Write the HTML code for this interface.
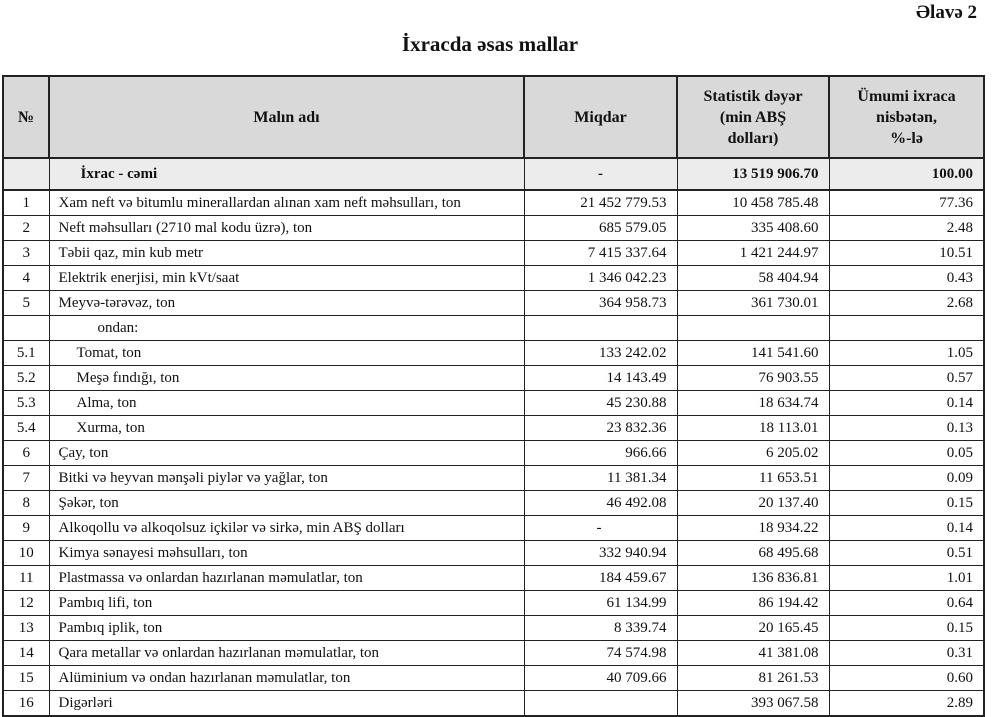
<!DOCTYPE html>
<html><head><meta charset="utf-8"><style>
body{margin:0;background:#fff;width:1000px;height:716px;overflow:hidden;font-family:"Liberation Serif",serif;color:#111;position:relative}
.ap{position:absolute;right:23px;top:2px;font-weight:bold;font-size:19px}
.tt{position:absolute;left:0;width:980px;top:32px;text-align:center;font-weight:bold;font-size:21px}
table{position:absolute;left:2px;top:75px;border-collapse:collapse;table-layout:fixed;width:981px;border:2px solid #222}
td{border:1px solid #222;font-size:15px;padding:0;height:24px;white-space:nowrap;overflow:hidden}
col.a{width:46px}col.b{width:475px}col.c{width:153px}col.d{width:152px}col.e{width:155px}
th{background:#d9d9d9;border:2px solid #222;font-size:16px;height:78px;line-height:21px}
tr.tot td{background:#ececec;font-weight:bold;height:30px;border-bottom:2px solid #222}
.n{text-align:center}.r{text-align:right;padding-right:10px}.l{padding-left:9px}.s{padding-left:27px}.o{padding-left:48px}
.tot .l{padding-left:31px}
</style></head><body>
<div class="ap">Əlavə 2</div>
<div class="tt">İxracda əsas mallar</div>
<table>
<colgroup><col class="a"><col class="b"><col class="c"><col class="d"><col class="e"></colgroup>
<tr><th>№</th><th>Malın adı</th><th>Miqdar</th><th>Statistik dəyər<br>(min ABŞ<br>dolları)</th><th>Ümumi ixraca<br>nisbətən,<br>%-lə</th></tr>
<tr class="tot"><td></td><td class="l">İxrac - cəmi</td><td class="n">-</td><td class="r">13 519 906.70</td><td class="r">100.00</td></tr>
<tr><td class="n">1</td><td class="l">Xam neft və bitumlu minerallardan alınan xam neft məhsulları, ton</td><td class="r">21 452 779.53</td><td class="r">10 458 785.48</td><td class="r">77.36</td></tr>
<tr><td class="n">2</td><td class="l">Neft məhsulları (2710 mal kodu üzrə), ton</td><td class="r">685 579.05</td><td class="r">335 408.60</td><td class="r">2.48</td></tr>
<tr><td class="n">3</td><td class="l">Təbii qaz, min kub metr</td><td class="r">7 415 337.64</td><td class="r">1 421 244.97</td><td class="r">10.51</td></tr>
<tr><td class="n">4</td><td class="l">Elektrik enerjisi, min kVt/saat</td><td class="r">1 346 042.23</td><td class="r">58 404.94</td><td class="r">0.43</td></tr>
<tr><td class="n">5</td><td class="l">Meyvə-tərəvəz, ton</td><td class="r">364 958.73</td><td class="r">361 730.01</td><td class="r">2.68</td></tr>
<tr><td></td><td class="o">ondan:</td><td></td><td></td><td></td></tr>
<tr><td class="n">5.1</td><td class="s">Tomat, ton</td><td class="r">133 242.02</td><td class="r">141 541.60</td><td class="r">1.05</td></tr>
<tr><td class="n">5.2</td><td class="s">Meşə fındığı, ton</td><td class="r">14 143.49</td><td class="r">76 903.55</td><td class="r">0.57</td></tr>
<tr><td class="n">5.3</td><td class="s">Alma, ton</td><td class="r">45 230.88</td><td class="r">18 634.74</td><td class="r">0.14</td></tr>
<tr><td class="n">5.4</td><td class="s">Xurma, ton</td><td class="r">23 832.36</td><td class="r">18 113.01</td><td class="r">0.13</td></tr>
<tr><td class="n">6</td><td class="l">Çay, ton</td><td class="r">966.66</td><td class="r">6 205.02</td><td class="r">0.05</td></tr>
<tr><td class="n">7</td><td class="l">Bitki və heyvan mənşəli piylər və yağlar, ton</td><td class="r">11 381.34</td><td class="r">11 653.51</td><td class="r">0.09</td></tr>
<tr><td class="n">8</td><td class="l">Şəkər, ton</td><td class="r">46 492.08</td><td class="r">20 137.40</td><td class="r">0.15</td></tr>
<tr><td class="n">9</td><td class="l">Alkoqollu və alkoqolsuz içkilər və sirkə, min ABŞ dolları</td><td style="padding-left:72px">-</td><td class="r">18 934.22</td><td class="r">0.14</td></tr>
<tr><td class="n">10</td><td class="l">Kimya sənayesi məhsulları, ton</td><td class="r">332 940.94</td><td class="r">68 495.68</td><td class="r">0.51</td></tr>
<tr><td class="n">11</td><td class="l">Plastmassa və onlardan hazırlanan məmulatlar, ton</td><td class="r">184 459.67</td><td class="r">136 836.81</td><td class="r">1.01</td></tr>
<tr><td class="n">12</td><td class="l">Pambıq lifi, ton</td><td class="r">61 134.99</td><td class="r">86 194.42</td><td class="r">0.64</td></tr>
<tr><td class="n">13</td><td class="l">Pambıq iplik, ton</td><td class="r">8 339.74</td><td class="r">20 165.45</td><td class="r">0.15</td></tr>
<tr><td class="n">14</td><td class="l">Qara metallar və onlardan hazırlanan məmulatlar, ton</td><td class="r">74 574.98</td><td class="r">41 381.08</td><td class="r">0.31</td></tr>
<tr><td class="n">15</td><td class="l">Alüminium və ondan hazırlanan məmulatlar, ton</td><td class="r">40 709.66</td><td class="r">81 261.53</td><td class="r">0.60</td></tr>
<tr><td class="n">16</td><td class="l">Digərləri</td><td></td><td class="r">393 067.58</td><td class="r">2.89</td></tr>
</table>
</body></html>
